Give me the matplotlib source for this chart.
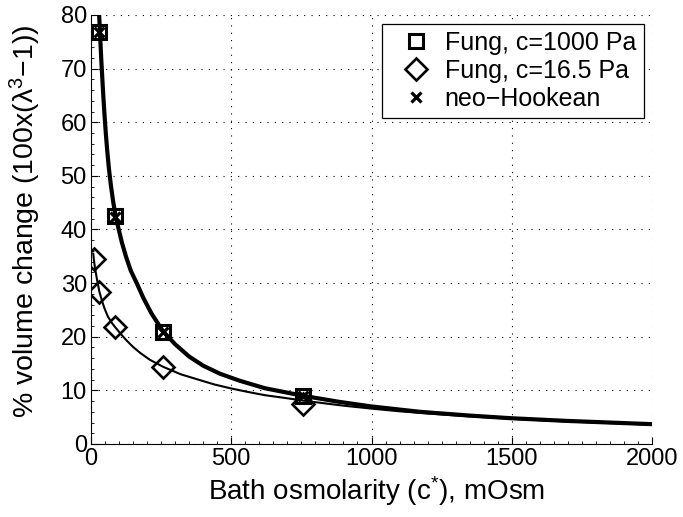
import matplotlib
matplotlib.use("Agg")
import matplotlib.pyplot as plt
from matplotlib.ticker import MultipleLocator
from matplotlib.lines import Line2D

plt.rcParams['font.family'] = ['Liberation Sans', 'DejaVu Sans']
plt.rcParams['mathtext.fontset'] = 'custom'
plt.rcParams['mathtext.rm'] = 'Liberation Sans'
plt.rcParams['mathtext.it'] = 'Liberation Sans'

# ---- data ----
# thick curve (Fung c=1000 Pa / neo-Hookean, overlapping)
curve_stiff_c = [27, 28.5, 30, 32, 34, 37, 40, 44, 48, 53, 58, 64, 71, 79, 88, 98, 110, 125,
                 142, 163, 187, 215, 257, 300, 350, 400, 460, 530, 620, 755, 880, 1000, 1173,
                 1350, 1500, 1700, 2000]
curve_stiff_y = [82, 80.5, 79, 76.7, 74.5, 71.3, 68.5, 64.8, 61.5, 57.8, 54.6, 51.3, 48.2, 45.2,
                 42.4, 40.2, 37.6, 34.9, 32.3, 30.0, 27.2, 24.4, 21.0, 18.6, 16.3, 14.6, 13.1,
                 11.8, 10.4, 9.0, 7.9, 7.0, 6.0, 5.3, 4.8, 4.3, 3.7]
# thin curve (Fung c=16.5 Pa)
curve_soft_c = [8, 10, 13, 17, 22, 30, 38, 48, 60, 74, 89, 105, 125, 150, 175, 210, 257, 320,
                389, 440, 496, 560, 620, 690, 755, 830, 900, 1000, 1100, 1200, 1350, 1500,
                1700, 2000]
curve_soft_y = [35.5, 34.5, 33.3, 32.0, 30.5, 28.4, 26.9, 25.3, 23.8, 22.6, 21.6, 20.6, 19.4,
                18.1, 17.0, 15.7, 14.4, 13.0, 11.9, 11.1, 10.4, 9.7, 9.1, 8.6, 8.1, 7.6, 7.15,
                6.6, 6.1, 5.7, 5.15, 4.7, 4.2, 3.6]

# markers
fung1000_c = [30, 85, 255, 755]
fung1000_y = [76.8, 42.5, 20.8, 8.9]
fung16_c = [10, 30, 85, 255, 755]
fung16_y = [34.5, 28.4, 21.8, 14.4, 7.4]
neo_c = [30, 85, 255, 755]
neo_y = [76.8, 42.3, 20.8, 8.9]

labels = ['Fung, c=1000 Pa', 'Fung, c=16.5 Pa', 'neo\u2212Hookean']
xticks = [0, 500, 1000, 1500, 2000]
yticks = [0, 10, 20, 30, 40, 50, 60, 70, 80]

FS_TICK = 17
FS_LAB = 20.5
FS_LEG = 18

fig = plt.figure(figsize=(6.83, 5.17), dpi=100)
ax = fig.add_axes([91/683, 1 - 444/517, (652 - 91)/683, (444 - 15)/517])

ax.plot(curve_stiff_c, curve_stiff_y, color='black', lw=3.0, zorder=3)
ax.plot(curve_soft_c, curve_soft_y, color='black', lw=1.5, zorder=3)

sq_kw = dict(marker='s', markersize=10, mfc='none', mec='black', mew=2.2)
di_kw = dict(marker='D', markersize=11.5, mfc='none', mec='black', mew=1.9)
x_kw = dict(marker='x', markersize=7.5, mec='black', mew=2.3)

ax.plot(fung1000_c, fung1000_y, linestyle='none', zorder=4, **sq_kw)
ax.plot(fung16_c, fung16_y, linestyle='none', zorder=4, **di_kw)
ax.plot(neo_c, neo_y, linestyle='none', zorder=5, **x_kw)

ax.set_xlim(0, 2000)
ax.set_ylim(0, 80)
ax.set_xticks(xticks)
ax.set_yticks(yticks)
ax.xaxis.set_minor_locator(MultipleLocator(50))
ax.yaxis.set_minor_locator(MultipleLocator(2))
ax.tick_params(which='both', direction='in', labelsize=FS_TICK, colors='black')
ax.tick_params(which='major', length=5, width=0.8)
ax.tick_params(which='minor', length=2.5, width=0.6)
ax.tick_params(axis='x', pad=3)
ax.tick_params(axis='y', pad=3)

ax.spines['top'].set_visible(False)
ax.spines['right'].set_visible(False)
ax.grid(True, which='major', color='black', linestyle=(0, (1, 5.6)), linewidth=0.8)
ax.set_axisbelow(True)

ax.set_xlabel('Bath osmolarity (c$^{*}$), mOsm', fontsize=20)
ax.xaxis.set_label_coords((377 - 91) / 561, -0.07)
ax.set_ylabel('% volume change (100x(\u03bb$^{3}$\u22121))', fontsize=FS_LAB)
ax.yaxis.set_label_coords(-0.085, (444 - 221) / 429)

handles = [
    Line2D([], [], linestyle='none', **sq_kw),
    Line2D([], [], linestyle='none', **di_kw),
    Line2D([], [], linestyle='none', **x_kw),
]
leg = ax.legend(handles, labels, loc='upper right', fontsize=FS_LEG, frameon=True, fancybox=False,
                edgecolor='black', framealpha=1, borderaxespad=0.34, handlelength=2.12,
                handletextpad=0.1, labelspacing=0.15, borderpad=0.3)
leg.get_frame().set_linewidth(0.9)

fig.savefig('out.png', dpi=100)
